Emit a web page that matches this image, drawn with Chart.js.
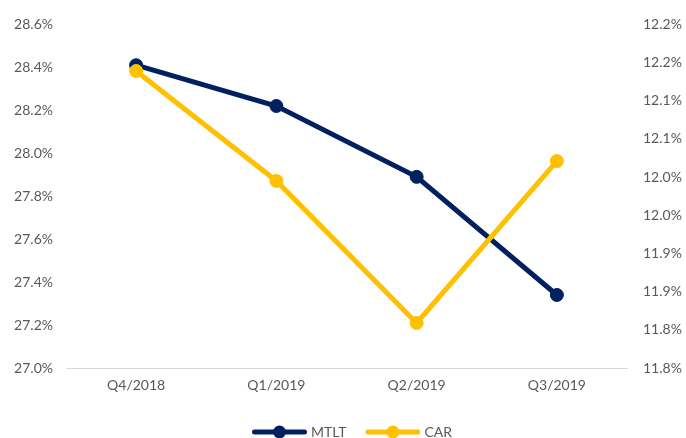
<!DOCTYPE html>
<html>
<head>
<meta charset="utf-8">
<script src="https://cdn.jsdelivr.net/npm/chart.js@4.4.1/dist/chart.umd.min.js"></script>
<style>
html,body{margin:0;padding:0;background:#fff;}
#wrap{width:686px;height:438px;}
</style>
</head>
<body>
<div id="wrap"><canvas id="c" width="686" height="438"></canvas></div>
<script>
const categories = ['Q4/2018', 'Q1/2019', 'Q2/2019', 'Q3/2019'];
const mtltValues = [28.41, 28.22, 27.89, 27.34];
const carValues = [12.139, 11.995, 11.809, 12.021];
const leftTicks = { min: 27.0, max: 28.6, step: 0.2 };
const rightTicks = { min: 11.75, max: 12.2, step: 0.05 };

const NAVY = '#002060';
const GOLD = '#FFC000';
const TEXT = '#595959';
const FONT = 'Lato, "Open Sans", sans-serif';

function legendSample(color) {
  const cv = document.createElement('canvas');
  cv.width = 76; cv.height = 14;
  const g = cv.getContext('2d');
  g.strokeStyle = color; g.lineWidth = 5; g.lineCap = 'round';
  g.beginPath(); g.moveTo(23.5, 7); g.lineTo(73.5, 7); g.stroke();
  g.fillStyle = color;
  g.beginPath(); g.arc(48.5, 7, 6.5, 0, Math.PI * 2); g.fill();
  return cv;
}
const samples = [legendSample(NAVY), legendSample(GOLD)];

function fmt(v) {
  return (Math.round(v * 10 + 1e-6) / 10).toFixed(1) + '%';
}

new Chart(document.getElementById('c'), {
  type: 'line',
  data: {
    labels: categories,
    datasets: [
      {
        label: 'MTLT', data: mtltValues, yAxisID: 'y', order: 1,
        borderColor: NAVY, backgroundColor: NAVY, borderWidth: 5,
        pointRadius: 6.5, pointBorderWidth: 1, pointBackgroundColor: NAVY, pointBorderColor: NAVY,
        tension: 0
      },
      {
        label: 'CAR', data: carValues, yAxisID: 'y1', order: 0,
        borderColor: GOLD, backgroundColor: GOLD, borderWidth: 5,
        pointRadius: 6.5, pointBorderWidth: 1, pointBackgroundColor: GOLD, pointBorderColor: GOLD,
        tension: 0
      }
    ]
  },
  options: {
    responsive: false,
    animation: false,
    layout: { padding: { top: 15, bottom: -11, left: 0, right: 0 } },
    plugins: {
      tooltip: { enabled: false },
      legend: {
        position: 'bottom',
        labels: {
          usePointStyle: true,
          pointStyleWidth: 70,
          boxHeight: 14,
          padding: 1,
          color: TEXT,
          font: { family: FONT, size: 14 },
          sort: (a, b) => a.datasetIndex - b.datasetIndex,
          generateLabels: (chart) => {
            const items = Chart.defaults.plugins.legend.labels.generateLabels(chart);
            items.forEach(it => { it.pointStyle = samples[it.datasetIndex]; });
            return items;
          }
        }
      }
    },
    scales: {
      x: {
        offset: true,
        grid: { display: false, drawTicks: false },
        border: { display: true, color: '#D9D9D9', width: 1 },
        ticks: { color: TEXT, font: { family: FONT, size: 14 }, padding: 9, maxRotation: 0 },
        afterFit: (s) => { s.height = 56; }
      },
      y: {
        position: 'left',
        min: leftTicks.min, max: leftTicks.max,
        grid: { display: false, drawTicks: false },
        border: { display: false },
        ticks: { stepSize: leftTicks.step, color: TEXT, font: { family: FONT, size: 14 }, padding: 13,
                 callback: (v) => fmt(v) },
        afterFit: (s) => { s.width = 66; }
      },
      y1: {
        position: 'right',
        min: rightTicks.min, max: rightTicks.max,
        grid: { display: false, drawTicks: false },
        border: { display: false },
        ticks: { stepSize: rightTicks.step, color: TEXT, font: { family: FONT, size: 14 }, padding: 16,
                 callback: (v) => fmt(v) },
        afterFit: (s) => { s.width = 59; }
      }
    }
  }
});
</script>
</body>
</html>
